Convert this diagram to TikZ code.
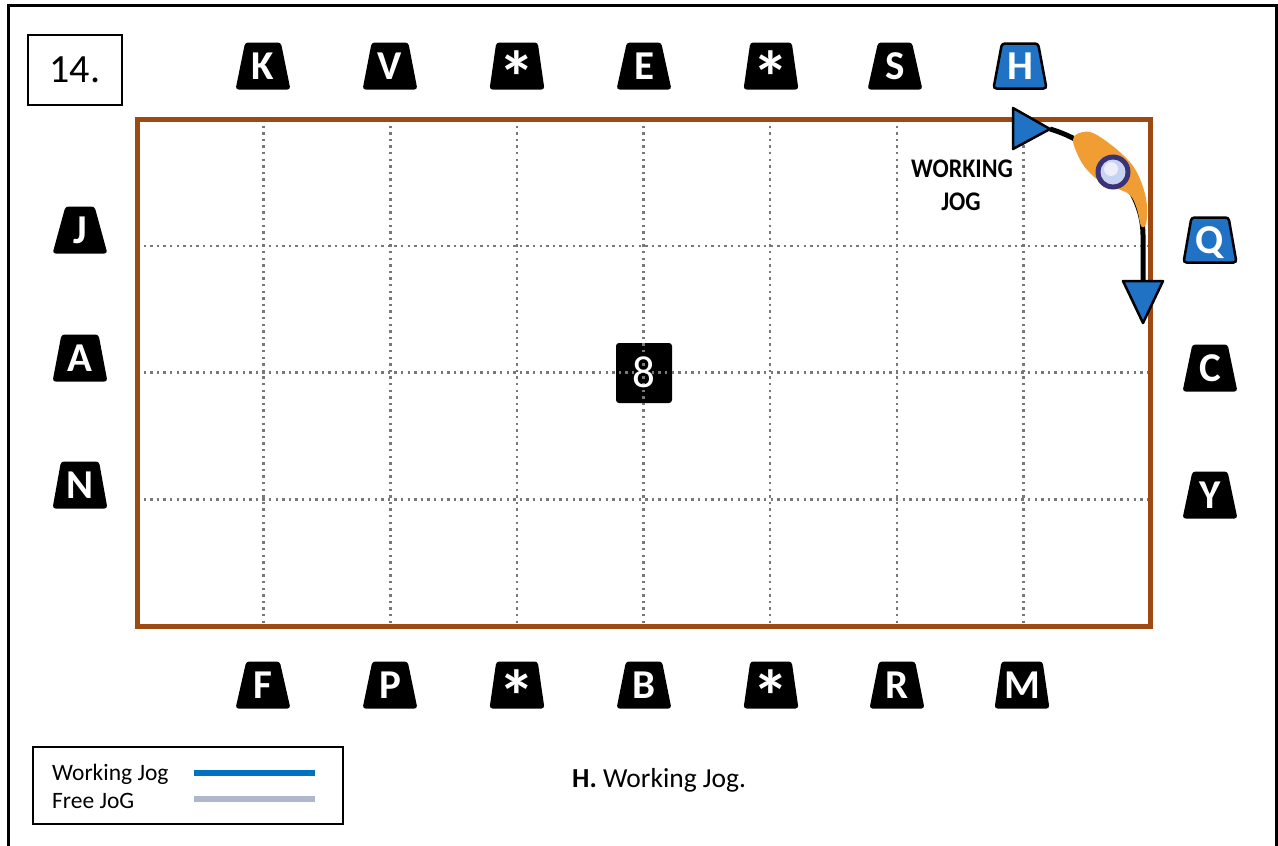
\documentclass[tikz,border=0pt]{standalone}
\usepackage{fontspec}
\setmainfont{Carlito}
\usetikzlibrary{shapes.geometric}
\definecolor{fieldbrown}{RGB}{156,74,18}
\definecolor{keyblue}{RGB}{32,114,196}
\definecolor{jogblue}{RGB}{0,112,192}
\definecolor{jogfree}{RGB}{173,185,202}
\definecolor{gridgray}{RGB}{120,120,120}
\definecolor{horseorange}{RGB}{240,158,52}
\definecolor{riderface}{RGB}{200,210,242}
\definecolor{ridernavy}{RGB}{58,52,118}
\newcommand{\starmark}{\raisebox{-24pt}{\scalebox{1.8}{*}}}
\begin{document}
\begin{tikzpicture}[x=1pt,y=-1pt,
  letterkey/.style={trapezium, trapezium left angle=77, trapezium right angle=77,
    trapezium stretches=true, minimum width=55, minimum height=47, inner sep=0pt,
    fill=black, rounded corners=3pt, text=white,
    font=\fontsize{41}{41}\selectfont\bfseries, text height=26pt, text depth=0pt},
  bluekey/.style={letterkey, fill=keyblue, draw=black, line width=2.5pt,
    minimum width=53, minimum height=45},
  gridline/.style={gridgray, line width=2.4pt, dash pattern=on 2.4pt off 4.2pt},
  plaintext/.style={inner sep=0pt, anchor=base west}
]
\useasboundingbox (0,0) rectangle (1278,846);

% outer frame
\draw[line width=3pt] (8.5,850) -- (8.5,5.5) -- (1276.5,5.5) -- (1276.5,850);

% exercise number
\node[draw, line width=2pt, minimum width=94, minimum height=70, inner sep=0pt,
  font=\fontsize{40}{40}\selectfont, text height=25pt, text depth=0pt] (num) at (75,70) {14.};

% centre marker plate (its number is set after the grid)
\node[fill=black, rounded corners=3pt, minimum width=56, minimum height=60, inner sep=0pt] (centre) at (644,373) {};

% riding field grid
\foreach \x in {263.6,390.3,516.9,643.5,770.1,896.8,1023.4}
  \draw[gridline] (\x,119) -- (\x,626);
\foreach \y in {245.8,372.5,499.3}
  \draw[gridline] (137,\y) -- (1150,\y);
\draw[fieldbrown, line width=5pt] (137,119) rectangle (1150,626);

\node[inner sep=0pt, text=white, font=\fontsize{45}{45}\selectfont, text height=28.5pt, text depth=0pt] (centrenum) at (centre) {8};

% letters, top side
\node[letterkey] (K) at (263,66) {K};
\node[letterkey] (V) at (390,66) {V};
\node[letterkey] (st1) at (517,66) {\starmark};
\node[letterkey] (E) at (644,66) {E};
\node[letterkey] (st2) at (771,66) {\starmark};
\node[letterkey] (S) at (895,66) {S};
\node[bluekey] (H) at (1020,66) {H};

% letters, bottom side
\node[letterkey] (F) at (263,685) {F};
\node[letterkey] (P) at (390,685) {P};
\node[letterkey] (st3) at (517,685) {\starmark};
\node[letterkey] (B) at (644,685) {B};
\node[letterkey] (st4) at (771,685) {\starmark};
\node[letterkey] (R) at (897,685) {R};
\node[letterkey] (M) at (1022,685) {M};

% letters, left side
\node[letterkey] (J) at (80,230) {J};
\node[letterkey] (A) at (80,358) {A};
\node[letterkey] (N) at (80,485) {N};

% letters, right side
\node[bluekey] (Q) at (1210,240) {Q};
\node[letterkey] (C) at (1210,368) {C};
\node[letterkey] (Y) at (1210,495) {Y};

% working jog figure
\node[plaintext, anchor=base, font=\fontsize{24}{24}\selectfont\bfseries, yscale=1.12] (wk) at (962,177) {WORKING};
\node[plaintext, anchor=base, font=\fontsize{24}{24}\selectfont\bfseries, yscale=1.12] (jg) at (961,210) {JOG};

\coordinate (jogstart) at (1050,129);
\coordinate (jogend) at (1143,281);
\draw[line width=5pt, line join=round] (jogstart) .. controls (1095,142) and (1143,185) .. (1143,235) -- (jogend);

% horse and rider seen from above
\fill[horseorange] plot[smooth cycle, tension=0.6] coordinates {
  (1077,134) (1090,132) (1106,141) (1123,155) (1135,169) (1143,187) (1147,206)
  (1146,224) (1141,226) (1137,209) (1130,195) (1116,188) (1098,180) (1084,166) (1076,151) (1073,140)};
\fill[ridernavy] (1113,172) circle (17.5);
\fill[riderface] (1113,172) circle (12.5);
\fill[white!65!riderface] (1111,169) circle (7);

% direction arrowheads
\draw[fill=keyblue, line width=2.5pt, line join=round] (1013,108) -- (jogstart) -- (1013,149) -- cycle;
\draw[fill=keyblue, line width=2.5pt, line join=round] (1123,281) -- (1163,281) -- (1143,323) -- cycle;

% legend
\node[draw, line width=1.5pt, minimum width=310, minimum height=77, inner sep=0pt] (legend) at (188,785.5) {};
\node[plaintext, font=\fontsize{23.5}{23.5}\selectfont] (lwork) at (52,780) {Working Jog};
\node[plaintext, font=\fontsize{23.5}{23.5}\selectfont] (lfree) at (52,808) {Free JoG};
\draw[jogblue, line width=6pt] (194,773) -- (315,773);
\draw[jogfree, line width=6pt] (194,799) -- (315,799);

% caption
\node[plaintext, font=\fontsize{27.5}{27.5}\selectfont] (caption) at (572,787) {\textbf{H.} Working Jog.};
\end{tikzpicture}
\end{document}
